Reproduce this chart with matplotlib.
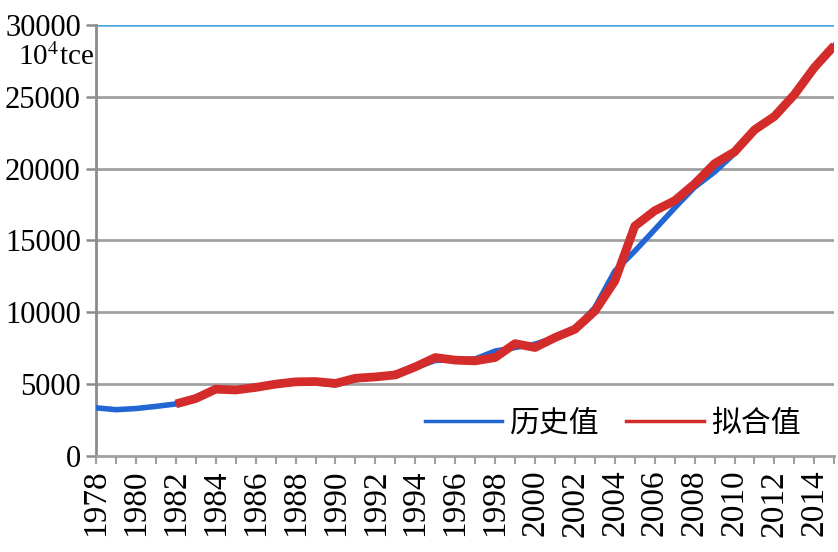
import matplotlib
matplotlib.use("Agg")
import matplotlib.pyplot as plt
from matplotlib.lines import Line2D

plt.rcParams['font.family'] = ['Liberation Serif', 'Noto Sans CJK SC', 'DejaVu Sans']
plt.rcParams['mathtext.fontset'] = 'stix'

years_hist = list(range(1978, 2016))
hist = [3350, 3220, 3300, 3450, 3620, 3950, 4600, 4600, 4720, 4980, 5150, 5100, 4950, 5300, 5500, 5750, 6150, 6650, 6700, 6750, 7300, 7550, 7780, 8240, 8820, 10330, 12870, 14260, 15760, 17270, 18710, 19770, 21060, 22700, 23640, 25160, 27040, 28570]

years_fit = list(range(1982, 2016))
fit = [3620, 4000, 4650, 4590, 4770, 5000, 5160, 5180, 5050, 5410, 5500, 5640, 6200, 6850, 6670, 6620, 6850, 7820, 7550, 8240, 8820, 10090, 12180, 16000, 17070, 17770, 18940, 20350, 21170, 22700, 23640, 25160, 27040, 28570]

yticks = [0, 5000, 10000, 15000, 20000, 25000, 30000]
xtick_years = list(range(1978, 2015, 2))

fig = plt.figure(figsize=(8.38, 5.52), dpi=100)
ax = fig.add_axes([0.1146, 0.174, 0.881, 0.7807])

grey = '#a0a0a0'
for v in yticks[1:-1]:
    ax.axhline(v, color=grey, lw=2.0, zorder=1)
ax.axhline(30000, color='#4ea7da', lw=1.8, zorder=1)

ax.plot(years_hist, hist, color='#2266d4', lw=4.0, solid_joinstyle='round', zorder=3)
ax.plot(years_fit, fit, color='#d42b2b', lw=6.3, solid_joinstyle='round', solid_capstyle='butt', zorder=4)

ax.set_xlim(1978, 2015)
ax.set_ylim(0, 30000)
ax.set_yticks(yticks)
ax.set_yticklabels([str(v) for v in yticks], fontsize=22)
ax.set_xticks(list(range(1978, 2016)))
ax.set_xticklabels([str(y) if y in xtick_years else '' for y in range(1978, 2016)], rotation=90, fontsize=24)

for s in ['top', 'right']:
    ax.spines[s].set_visible(False)
ax.spines['left'].set_color('#8c8c8c')
ax.spines['left'].set_linewidth(2.0)
ax.spines['bottom'].set_color(grey)
ax.spines['bottom'].set_linewidth(2.0)
ax.tick_params(axis='y', length=7, width=1.8, color='#8c8c8c', pad=4)
ax.tick_params(axis='x', length=6, width=1.5, color='#a0a0a0', pad=4)

ax.text(-0.106, 0.925, r'10$^{\mathrm{4}}$tce', transform=ax.transAxes, fontsize=21,
        ha='left', va='center')

handles = [Line2D([0], [0], color='#2266d4', lw=2.5),
           Line2D([0], [0], color='#d42b2b', lw=2.5)]
leg = ax.legend(handles, ['历史值', '拟合值'], loc='center', bbox_to_anchor=(0.700, 0.076),
                ncol=2, frameon=False, handlelength=2.6, columnspacing=0.9,
                handletextpad=0.25, prop={'family': ['Noto Sans CJK SC'], 'size': 21.5})

fig.savefig('out.png', dpi=100)
